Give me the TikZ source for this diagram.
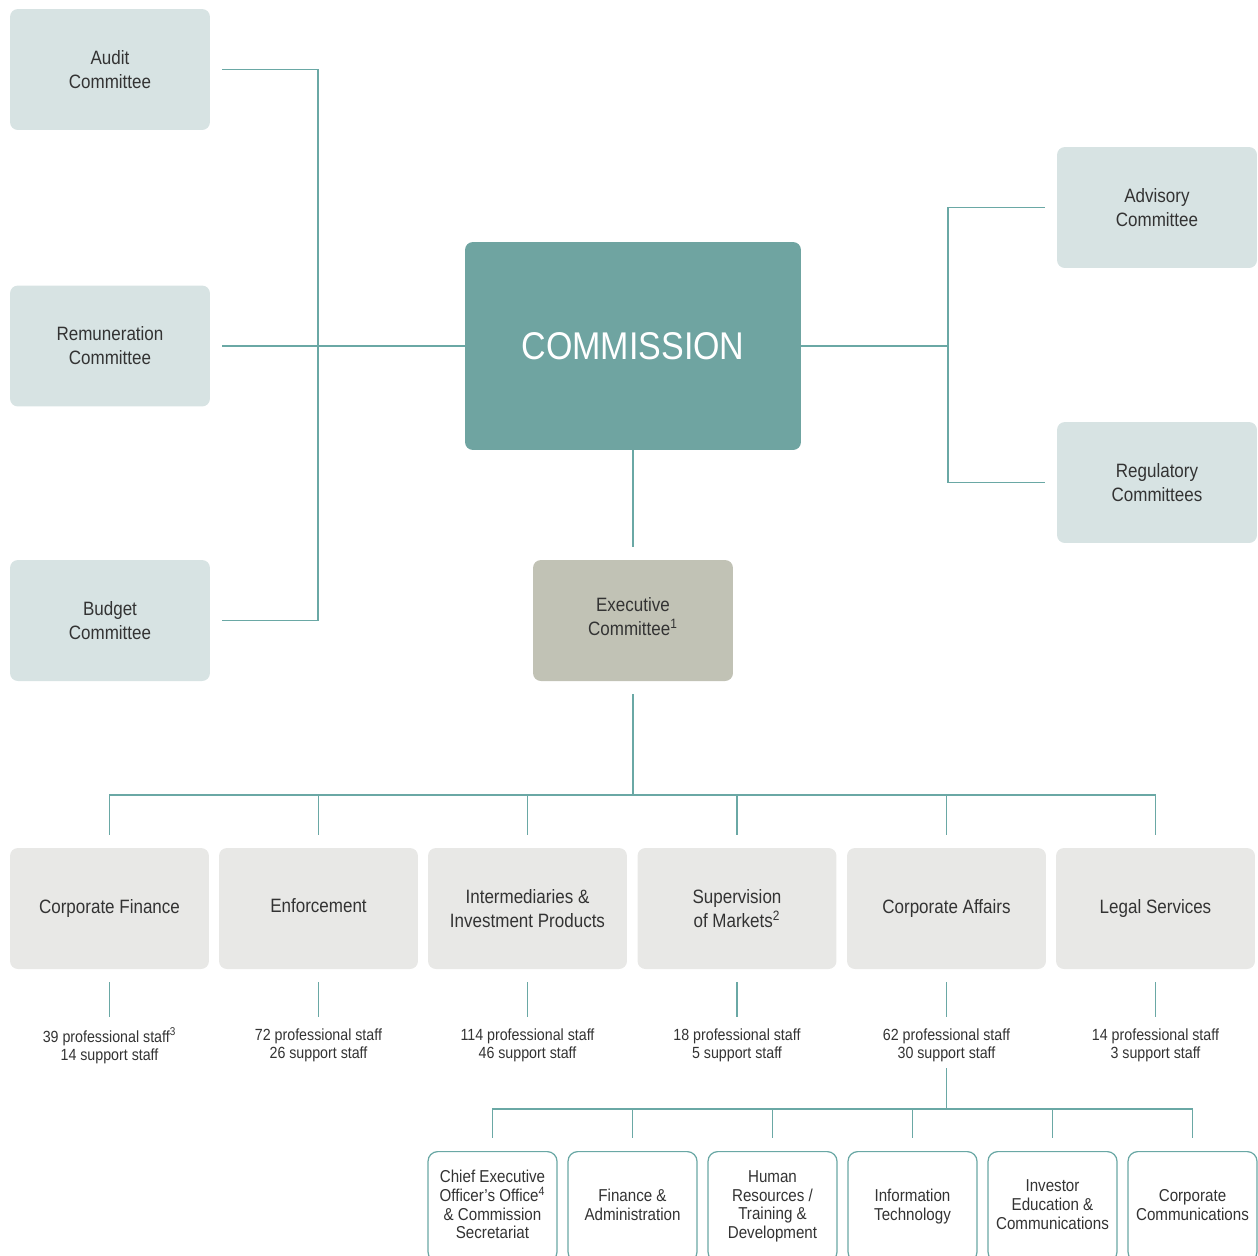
\documentclass[tikz,border=0pt]{standalone}
\usepackage{fontspec}
\setmainfont{Liberation Sans}[FakeStretch=0.88]
\usepackage{tikz}
\usetikzlibrary{calc}

\definecolor{linecol}{HTML}{6AA8A5}
\definecolor{cmtcol}{HTML}{D7E3E3}
\definecolor{commcol}{HTML}{6FA4A1}
\definecolor{execcol}{HTML}{C1C2B5}
\definecolor{deptcol}{HTML}{E8E8E6}
\definecolor{txtcol}{HTML}{333333}

\tikzset{
  conn/.style={draw=linecol, line width=0.7pt},
  box/.style={rounded corners=4.5pt, align=center, inner sep=0pt, text=txtcol,
    font=\fontsize{11}{13.7}\selectfont},
  cmtbox/.style={box, fill=cmtcol, minimum width=4cm, minimum height=2.42cm},
  deptbox/.style={box, fill=deptcol, minimum width=3.98cm, minimum height=2.42cm},
  unitbox/.style={box, draw=linecol, line width=0.7pt, rounded corners=5.5pt, anchor=north,
    minimum width=2.58cm, minimum height=2.2cm, text depth=2.2pt,
    font=\fontsize{9.8}{10.6}\selectfont},
  staff/.style={align=center, inner sep=0pt, text=txtcol, font=\fontsize{9.2}{10.3}\selectfont}
}

\begin{document}
\begin{tikzpicture}[x=0.02cm, y=-0.02cm]
      \useasboundingbox (0,0) rectangle (1258,1255);
      % committees on the left
      \node[cmtbox] (audit) at (110,69.5) {Audit\\Committee};
      \node[cmtbox] (remun) at (110,346) {Remuneration\\Committee};
      \node[cmtbox] (budget) at (110,620.5) {Budget\\Committee};
      % commission
      \node[box, fill=commcol, minimum width=6.72cm, minimum height=4.16cm, text=white,
        font=\fontsize{22}{26}\selectfont] (comm) at (633,346) {COMMISSION};
      % committees on the right
      \node[cmtbox] (advisory) at (1157,207.5) {Advisory\\Committee};
      \node[cmtbox] (regul) at (1157,482.5) {Regulatory\\Committees};
      % executive committee
      \node[box, fill=execcol, minimum width=4cm, minimum height=2.42cm, text depth=4.5pt]
        (exec) at (633,620.5) {Executive\\Committee\textsuperscript{1}};
      % divisions
      \node[deptbox] (cf) at (109.5,908.5) {Corporate Finance};
      \node[deptbox, text depth=3.4pt] (enf) at (318.5,908.5) {Enforcement};
      \node[deptbox] (iip) at (527.5,908.5) {Intermediaries \&\\Investment Products};
      \node[deptbox] (som) at (737,908.5) {Supervision\\of Markets\textsuperscript{2}};
      \node[deptbox] (ca) at (946.5,908.5) {Corporate Affairs};
      \node[deptbox] (ls) at (1155.5,908.5) {Legal Services};
      % staff numbers
      \node[staff] (cfstaff) at (109.5,1045.5) {39 professional staff\textsuperscript{3}\\14 support staff};
      \node[staff] (enfstaff) at (318.5,1045.5) {72 professional staff\\26 support staff};
      \node[staff] (iipstaff) at (527.5,1045.5) {114 professional staff\\46 support staff};
      \node[staff] (somstaff) at (737,1045.5) {18 professional staff\\5 support staff};
      \node[staff] (castaff) at (946.5,1045.5) {62 professional staff\\30 support staff};
      \node[staff] (lsstaff) at (1155.5,1045.5) {14 professional staff\\3 support staff};
      % units of corporate affairs
      \node[unitbox] (ceo) at (492.5,1151) {Chief Executive\\Officer’s Office\textsuperscript{4}\\\& Commission\\Secretariat};
      \node[unitbox] (fin) at (632.5,1151) {Finance \&\\Administration};
      \node[unitbox] (hr) at (772.5,1151) {Human\\Resources /\\Training \&\\Development};
      \node[unitbox] (it) at (912.5,1151) {Information\\Technology};
      \node[unitbox] (iec) at (1052.5,1151) {Investor\\Education \&\\Communications};
      \node[unitbox] (cc) at (1192.5,1151) {Corporate\\Communications};

      % junctions
      \coordinate (jleft) at (318,346);
      \coordinate (jright) at (948,346);
      \coordinate (jdiv) at (633,795);
      \coordinate (junit) at (946.5,1109);

      % connectors
      \draw[conn, shorten <=0.24cm] (audit.east) -| (jleft);
      \draw[conn, shorten <=0.24cm] (budget.east) -| (jleft);
      \draw[conn, shorten <=0.24cm] (remun.east) -- (comm.west);
      \draw[conn] (comm.east) -- (jright);
      \draw[conn, shorten >=0.24cm] (jright) |- (advisory.west);
      \draw[conn, shorten >=0.24cm] (jright) |- (regul.west);
      \draw[conn, shorten >=0.26cm] (comm.south) -- (exec.north);
      \draw[conn, shorten <=0.26cm] (exec.south) -- (jdiv);
      \foreach \d in {cf,enf,iip,som,ca,ls}{
        \draw[conn, shorten >=0.26cm] (jdiv) -| (\d.north);
        \draw[conn, shorten <=0.26cm] (\d.south) -- ($(\d.south)+(0,48)$);
      }
      \draw[conn, shorten <=0.12cm] (castaff.south) -- (junit);
      \foreach \u in {ceo,fin,hr,it,iec,cc}{
        \draw[conn, shorten >=0.26cm] (junit) -| (\u.north);
      }
    \end{tikzpicture}
\end{document}
